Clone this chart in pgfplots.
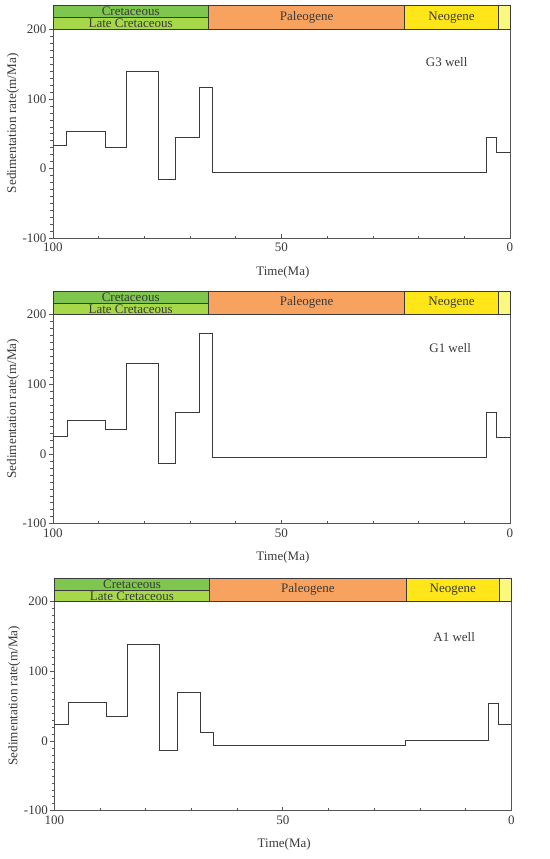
\documentclass[border=0pt]{standalone}
\usepackage{pgfplots}
\pgfplotsset{compat=1.18}
\usepackage{fontspec}
\setmainfont{Liberation Serif}
\definecolor{cret}{HTML}{7FC64E}
\definecolor{lcret}{HTML}{A6D84A}
\definecolor{paleo}{HTML}{F7A35F}
\definecolor{neo}{HTML}{FFE619}
\definecolor{quat}{HTML}{F9F97F}
\definecolor{ln}{HTML}{3A3A3A}
\definecolor{ax}{HTML}{555555}
\newcommand\hdfont{\fontsize{13bp}{15bp}\selectfont}
\newcommand\header{%
 \addplot[fill=cret,draw=ln,line width=0.6bp] coordinates {(100,217)(66,217)(66,234)(100,234)} -- cycle;
 \addplot[fill=lcret,draw=ln,line width=0.6bp] coordinates {(100,200)(66,200)(66,217)(100,217)} -- cycle;
 \addplot[fill=paleo,draw=ln,line width=0.6bp] coordinates {(66,200)(23.03,200)(23.03,234)(66,234)} -- cycle;
 \addplot[fill=neo,draw=ln,line width=0.6bp] coordinates {(23.03,200)(2.6,200)(2.6,234)(23.03,234)} -- cycle;
 \addplot[fill=quat,draw=ln,line width=0.6bp] coordinates {(2.6,200)(0,200)(0,234)(2.6,234)} -- cycle;
 \node[font=\hdfont, text=ln] at (axis cs:83,225.5) {Cretaceous};
 \node[font=\hdfont, text=ln] at (axis cs:83,208.5) {Late Cretaceous};
 \node[font=\hdfont, text=ln] at (axis cs:44.5,217) {Paleogene};
 \node[font=\hdfont, text=ln] at (axis cs:12.8,217) {Neogene};
}
\pgfplotsset{panel/.style={
  scale only axis, width=457bp, height=209bp,
  xmin=0, xmax=100, x dir=reverse, ymin=-100, ymax=200,
  xtick={0,50,100}, minor xtick={10,20,...,90},
  ytick={-100,0,100,200}, minor ytick={-90,-80,...,190},
  xtick pos=lower, ytick pos=left,
  xtick align=inside, ytick align=outside,
  major tick length=4bp, minor tick length=2.5bp,
  clip=false,
  axis line style={ax, line width=0.8bp},
  tick style={ax, line width=0.6bp},
  tick label style={font=\fontsize{13bp}{15bp}\selectfont, text=ln},
  /pgf/number format/assume math mode=true,
  xticklabel style={yshift=-1.5bp},
  yticklabel style={xshift=1bp},
  xlabel={Time(Ma)}, ylabel={Sedimentation rate(m/Ma)},
  xlabel style={font=\fontsize{13bp}{15bp}\selectfont, text=ln, at={(axis description cs:0.503,-0.163)}, anchor=center},
  ylabel style={font=\fontsize{13.2bp}{15bp}\selectfont, text=ln, at={(axis description cs:-0.0875,0.55)}, anchor=center},
  anchor=south west,
}}
\begin{document}
\begin{tikzpicture}
\useasboundingbox (0,0) rectangle (550bp,859bp);
\begin{axis}[panel, at={(53bp,620.7bp)}]
\header
\addplot[const plot mark left, ln, line width=0.9bp] coordinates {(100,33)(97,53)(88.5,30.5)(84,140)(77,-15)(73.1,45)(68,116.5)(65.1,-6)(5.1,45)(3,23)(0,23)};
\node[font=\hdfont, text=ln] at (axis cs:13.85,153) {G3 well};
\end{axis}
\begin{axis}[panel, at={(53bp,335.3bp)}]
\header
\addplot[const plot mark left, ln, line width=0.9bp] coordinates {(100,25)(96.9,47.5)(88.5,35)(84,130.5)(77,-13.5)(73.1,59.5)(68,173.5)(65.1,-5)(5.1,59.5)(3,24.5)(0,24.5)};
\node[font=\hdfont, text=ln] at (axis cs:13.1,152) {G1 well};
\end{axis}
\begin{axis}[panel, at={(54.3bp,48.3bp)}]
\header
\addplot[const plot mark left, ln, line width=0.9bp] coordinates {(100,24)(97,55.5)(88.5,35.5)(84.1,139)(77,-13)(73.1,70)(68,12.5)(65.1,-6.5)(23.1,1)(5.1,54)(2.9,23.5)(0,23.5)};
\node[font=\hdfont, text=ln] at (axis cs:12.5,149.5) {A1 well};
\end{axis}
\end{tikzpicture}
\end{document}
